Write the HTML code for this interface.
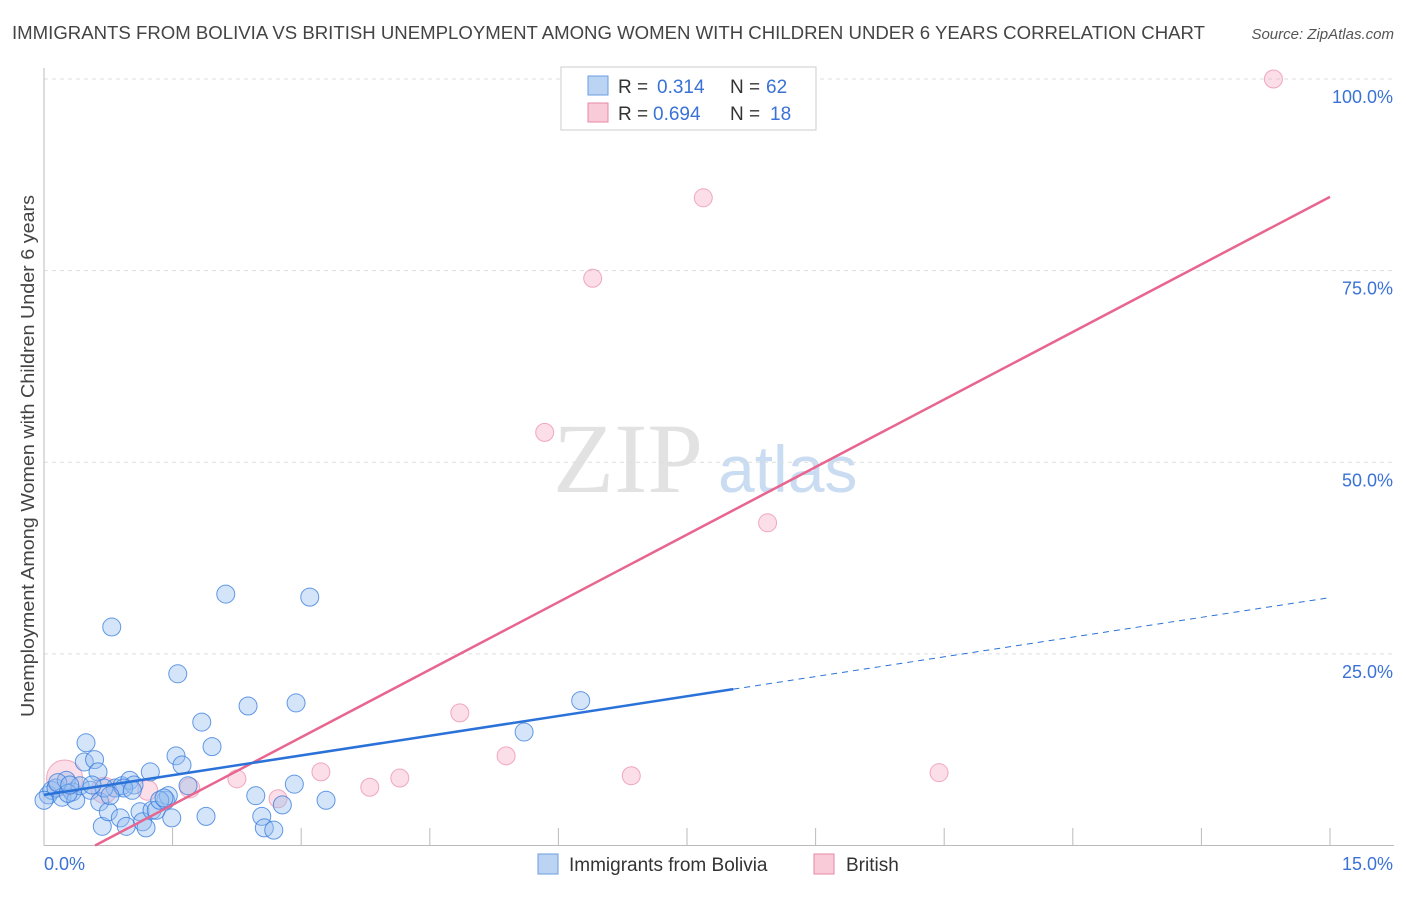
<!DOCTYPE html>
<html><head><meta charset="utf-8"><style>
body{margin:0;background:#fff;font-family:"Liberation Sans",sans-serif;}
</style></head><body>
<svg width="1406" height="892" font-family="Liberation Sans, sans-serif">
<text x="12" y="39" font-size="18" fill="#444" textLength="1193" lengthAdjust="spacingAndGlyphs">IMMIGRANTS FROM BOLIVIA VS BRITISH UNEMPLOYMENT AMONG WOMEN WITH CHILDREN UNDER 6 YEARS CORRELATION CHART</text>
<text x="1394" y="39" font-size="15" fill="#555" text-anchor="end" font-style="italic">Source: ZipAtlas.com</text>
<text x="553" y="492" font-size="100" fill="#e2e2e2" style="font-family:'Liberation Serif',serif">ZIP</text>
<text x="718" y="492" font-size="66" fill="#c9dcf2">atlas</text>
<g id="grid"></g>
<g id="axes"></g>
<g id="marks"></g>
<text transform="translate(34,456) rotate(-90)" font-size="18" fill="#444" text-anchor="middle" textLength="522" lengthAdjust="spacingAndGlyphs">Unemployment Among Women with Children Under 6 years</text>
<g>
<rect x="561" y="67" width="255" height="63" fill="#fff" stroke="#ccc"/>
<rect x="588" y="76" width="20" height="19" fill="#bcd4f4" stroke="#6a9ee0"/>
<text x="618" y="93" font-size="19" fill="#333">R = </text><text x="657" y="93" font-size="19" fill="#3a72d6">0.314</text>
<text x="730" y="93" font-size="19" fill="#333">N = </text><text x="766" y="93" font-size="19" fill="#3a72d6">62</text>
<rect x="588" y="103" width="20" height="19" fill="#f9cbd8" stroke="#e88aa6"/>
<text x="618" y="120" font-size="19" fill="#333">R = </text><text x="653" y="120" font-size="19" fill="#3a72d6">0.694</text>
<text x="730" y="120" font-size="19" fill="#333">N = </text><text x="770" y="120" font-size="19" fill="#3a72d6">18</text>
</g>
<g>
<rect x="538" y="854" width="20" height="20" fill="#bcd4f4" stroke="#6a9ee0"/>
<text x="569" y="871" font-size="19" fill="#333">Immigrants from Bolivia</text>
<rect x="814" y="854" width="20" height="20" fill="#f9cbd8" stroke="#e88aa6"/>
<text x="846" y="871" font-size="19" fill="#333">British</text>
</g>
</svg>
<script>
const blueX=[0.05,0.09,0.14,0.21,0.26,0.33,0.37,0.42,0.47,0.49,0.54,0.59,0.63,0.65,0.68,0.75,0.79,0.83,0.89,0.91,0.96,1.00,1.05,1.12,1.15,1.19,1.24,1.26,1.31,1.42,1.45,1.49,1.54,1.56,1.61,1.68,1.84,1.89,1.96,2.12,2.38,2.47,2.54,2.57,2.68,2.78,2.92,2.94,3.10,3.29,5.60,6.26,0.0,0.16,0.28,0.70,0.93,1.03,1.35,1.40,0.77,0.56,0.30];
const blueY=[6.6,7.2,7.5,6.3,8.5,7.0,5.9,7.8,10.9,13.4,7.2,11.2,9.6,5.7,2.5,4.4,28.5,7.5,3.6,7.8,2.5,8.5,7.9,4.4,3.1,2.3,9.6,4.6,4.6,5.9,6.5,3.6,11.7,22.4,10.5,7.8,16.1,3.8,12.9,32.8,18.2,6.5,3.8,2.3,2.0,5.3,8.0,18.6,32.4,5.9,14.8,18.9,5.9,8.2,6.8,7.5,7.5,7.2,5.9,6.2,6.5,7.9,7.9];
const pinkX=[0.24,0.70,1.21,1.70,2.25,2.73,3.23,3.80,4.15,4.85,5.39,5.84,6.40,6.85,7.69,8.44,10.44,14.34];
const pinkY=[8.8,7.2,7.2,7.5,8.7,6.1,9.6,7.6,8.8,17.3,11.7,53.9,74.0,9.1,84.5,42.1,9.5,100];
const pinkR=[18,13,10,10,9,9,9,9,9,9,9,9,9,9,9,9,9,9];
const blueFit=[6.6,1.716];   // intercept, slope
const pinkFit=[-3.5,5.875];
const blueSolidEnd=8.04;
const yTicks=[25,50,75,100];
const yTickLabels=["25.0%","50.0%","75.0%","100.0%"];
const xTicks=[0,1.5,3,4.5,6,7.5,9,10.5,12,13.5,15];

const NS="http://www.w3.org/2000/svg";
const X=v=>44+v/15*1286, Y=v=>845.5-v/100*766.5;
function mk(p,t,a){const e=document.createElementNS(NS,t);for(const k in a)e.setAttribute(k,a[k]);p.appendChild(e);return e;}
const grid=document.getElementById('grid'),axes=document.getElementById('axes'),marks=document.getElementById('marks');
yTicks.forEach((t,i)=>{
 const l=mk(grid,'line',{x1:44,x2:1394,y1:Y(t),y2:Y(t),stroke:'#ddd','stroke-dasharray':'4,4'});
 
 
 const tx=mk(axes,'text',{x:1393,y:Y(t)+24,'font-size':18,fill:'#3a72d6','text-anchor':'end'});
 tx.textContent=yTickLabels[i];
 
 
});
const xa=mk(axes,'line',{x1:44,x2:1394,y1:845.5,y2:845.5,stroke:'#bbb'});


const ya=mk(axes,'line',{x1:44,x2:44,y1:68,y2:845.5,stroke:'#bbb'});


xTicks.forEach(t=>{const l=mk(axes,'line',{x1:X(t),x2:X(t),y1:828,y2:845.5,stroke:'#bbb'});
 
 });
const x0=mk(axes,'text',{x:44,y:870,'font-size':18,fill:'#3a72d6'});x0.textContent='0.0%';


const x1=mk(axes,'text',{x:1393,y:870,'font-size':18,fill:'#3a72d6','text-anchor':'end'});x1.textContent='15.0%';



pinkX.forEach((v,i)=>{const c=mk(marks,'circle',{cx:X(v),cy:Y(pinkY[i]),r:pinkR[i],fill:'rgba(244,160,185,0.35)',stroke:'rgba(232,120,155,0.6)','stroke-width':1});
 
 });
blueX.forEach((v,i)=>{const c=mk(marks,'circle',{cx:X(v),cy:Y(blueY[i]),r:9,fill:'rgba(150,190,240,0.4)',stroke:'rgba(50,120,220,0.75)','stroke-width':1});
 
 });
const px0=-pinkFit[0]/pinkFit[1];
const pl=mk(marks,'line',{x1:X(px0),y1:Y(0),x2:X(15),y2:Y(pinkFit[0]+pinkFit[1]*15),stroke:'#e8658f','stroke-width':2.5});


const bl=mk(marks,'line',{x1:X(0),y1:Y(blueFit[0]),x2:X(blueSolidEnd),y2:Y(blueFit[0]+blueFit[1]*blueSolidEnd),stroke:'#2a72d8','stroke-width':2.5});


const bd=mk(marks,'line',{x1:X(blueSolidEnd),y1:Y(blueFit[0]+blueFit[1]*blueSolidEnd),x2:X(15),y2:Y(blueFit[0]+blueFit[1]*15),stroke:'#2a72d8','stroke-width':1,'stroke-dasharray':'6,5'});


</script>
</body></html>
